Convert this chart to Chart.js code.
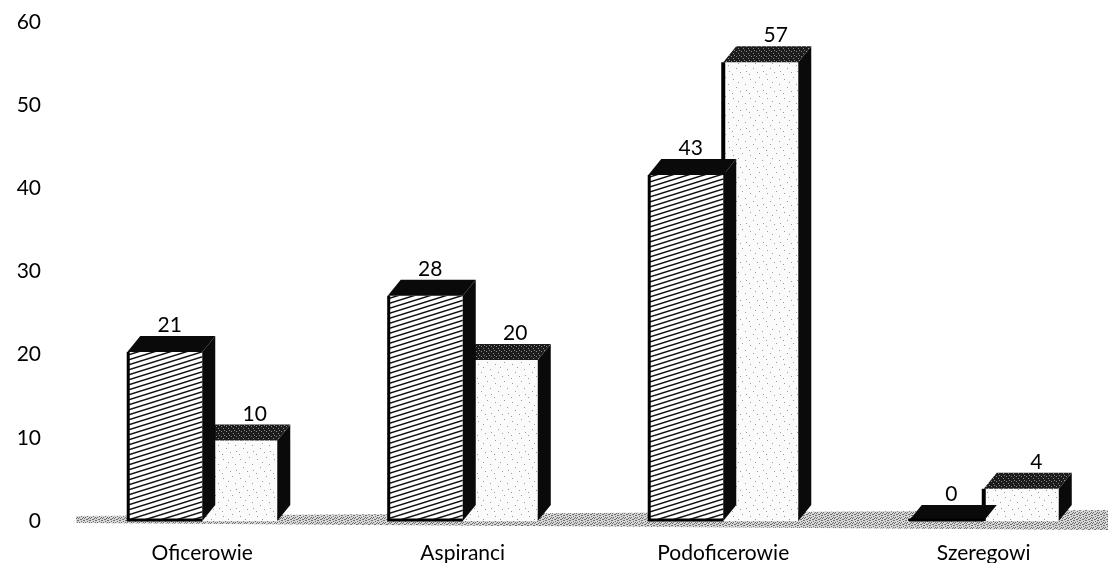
<!DOCTYPE html>
<html><head><meta charset="utf-8">
<script src="https://cdn.jsdelivr.net/npm/chart.js@4.4.1/dist/chart.umd.min.js"></script>
<style>html,body{margin:0;padding:0;background:#fff}#wrap{width:1114px;height:576px;position:relative}</style>
</head><body><div id="wrap"><canvas id="c"></canvas></div>
<script>
const categories = ['Oficerowie', 'Aspiranci', 'Podoficerowie', 'Szeregowi'];
const seriesHatched = [21, 28, 43, 0];
const seriesDotted = [10, 20, 57, 4];
const yTickMin = 0, yTickMax = 60, yTickStep = 10;

const DX = 13, DY = -16;
const FONT = 'Lato, "Open Sans", sans-serif';

function makeHatch() {
  const c = document.createElement('canvas'); c.width = 16; c.height = 5;
  const g = c.getContext('2d');
  g.fillStyle = '#fff'; g.fillRect(0, 0, 16, 5);
  g.strokeStyle = '#111'; g.lineWidth = 1.5;
  for (const o of [-5, 0, 5]) { g.beginPath(); g.moveTo(-16, 10 + o); g.lineTo(32, -5 + o); g.stroke(); }
  return g.createPattern(c, 'repeat');
}
function makeSpeckle(w, h, bg, fg, pts) {
  const c = document.createElement('canvas'); c.width = w; c.height = h;
  const g = c.getContext('2d');
  if (bg) { g.fillStyle = bg; g.fillRect(0, 0, w, h); }
  g.fillStyle = fg;
  pts.forEach(p => g.fillRect(p[0], p[1], 1, 1));
  return g.createPattern(c, 'repeat');
}
const hatchFill = makeHatch();
const dotFill = makeSpeckle(17, 19, '#fbfbfb', '#9a9a9a', [[2,3],[11,1],[14,8],[5,11],[9,15],[1,17],[7,6],[15,14]]);
const floorFill = makeSpeckle(6, 5, '#d6d6d6', '#6f6f6f', [[0,0],[3,1],[1,2],[4,3],[2,4],[5,0],[0,3],[3,4],[5,2]]);
const topDotFill = makeSpeckle(5, 5, '#1c1c1c', '#8a8a8a', [[1,1],[3,3],[4,0]]);

const bar3d = {
  id: 'bar3d',
  beforeDatasetsDraw(chart) {
    const { ctx, chartArea } = chart;
    const y0 = chart.scales.yb.getPixelForValue(0);
    ctx.save();
    ctx.fillStyle = floorFill;
    ctx.beginPath();
    ctx.moveTo(chartArea.left + 4, y0 - 5);
    ctx.lineTo(chartArea.right - 6, y0 - 11);
    ctx.lineTo(chartArea.right - 6, y0 + 9);
    ctx.lineTo(chartArea.left + 4, y0 + 2);
    ctx.closePath();
    ctx.fill();
    ctx.restore();
  },
  afterDatasetDraw(chart, args) {
    const ctx = chart.ctx, i = args.index;
    const other = chart.getDatasetMeta(0).data;
    args.meta.data.forEach((el, j) => {
      const { x, y, base, width } = el.getProps(['x', 'y', 'base', 'width'], true);
      const l = x - width / 2, r = x + width / 2;
      ctx.save();
      // side face
      ctx.fillStyle = '#0a0a0a';
      ctx.beginPath();
      ctx.moveTo(r, y); ctx.lineTo(r + DX, y + DY); ctx.lineTo(r + DX, base + DY); ctx.lineTo(r, base);
      ctx.closePath(); ctx.fill();
      // top face
      ctx.fillStyle = i === 0 ? '#0a0a0a' : topDotFill;
      ctx.beginPath();
      ctx.moveTo(l, y); ctx.lineTo(l + DX, y + DY); ctx.lineTo(r + DX, y + DY); ctx.lineTo(r, y);
      ctx.closePath(); ctx.fill();
      // outlines
      ctx.strokeStyle = '#000';
      if (i === 0) {
        ctx.lineWidth = 3;
        ctx.beginPath(); ctx.moveTo(l + 1, y); ctx.lineTo(l + 1, base - 1); ctx.lineTo(r, base - 1); ctx.stroke();
      } else {
        const oy = other[j].y;
        if (oy > y) {
          ctx.lineWidth = 4;
          ctx.beginPath(); ctx.moveTo(l, y); ctx.lineTo(l, oy); ctx.stroke();
        }
      }
      ctx.restore();
    });
  },
  afterDatasetsDraw(chart) {
    const ctx = chart.ctx;
    ctx.save();
    ctx.fillStyle = '#000';
    ctx.font = '21px ' + FONT;
    ctx.textAlign = 'center';
    ctx.textBaseline = 'alphabetic';
    chart.data.datasets.forEach((ds, i) => {
      chart.getDatasetMeta(i).data.forEach((el, j) => {
        const off = i === 0 ? 5 : 15;
        ctx.fillText(String(ds.data[j]), el.x + off, el.y + DY - 4);
      });
    });
    ctx.restore();
  }
};

new Chart(document.getElementById('c'), {
  type: 'bar',
  data: {
    labels: categories,
    datasets: [
      { data: seriesHatched, backgroundColor: hatchFill, borderWidth: 0, yAxisID: 'yb' },
      { data: seriesDotted, backgroundColor: dotFill, borderWidth: 0, yAxisID: 'yb' }
    ]
  },
  options: {
    responsive: true, maintainAspectRatio: false, devicePixelRatio: 1, animation: false,
    categoryPercentage: 0.576, barPercentage: 1,
    layout: { padding: { top: 22, bottom: 13, left: 0, right: 0 } },
    plugins: { legend: { display: false }, tooltip: { enabled: false } },
    scales: {
      x: {
        grid: { display: false, drawTicks: false }, border: { display: false },
        ticks: { color: '#000', font: { family: FONT, size: 21 }, padding: 20 },
        afterFit(s) { s.height = 42; }
      },
      y: {
        position: 'left', min: yTickMin, max: yTickMax,
        grid: { display: false, drawTicks: false }, border: { display: false },
        ticks: { stepSize: yTickStep, color: '#000', font: { family: FONT, size: 21 }, padding: 31 },
        afterFit(s) { s.width = 72; s.paddingTop = 12; s.paddingBottom = 12; }
      },
      yb: { display: false, min: 0, max: 62 }
    }
  },
  plugins: [bar3d]
});
</script></body></html>
